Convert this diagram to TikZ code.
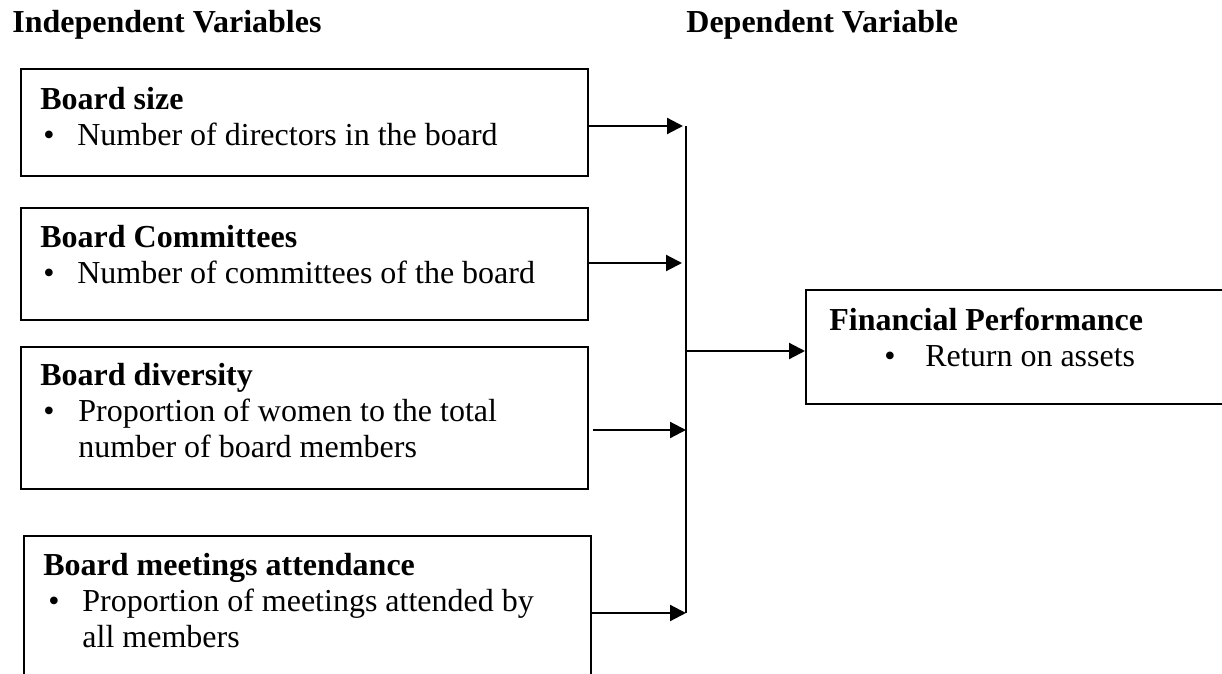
\documentclass[tikz,border=0pt]{standalone}
\usepackage{fontspec}
\setmainfont{Liberation Serif}
\usetikzlibrary{positioning, arrows.meta}

\newcommand{\bitem}[3]{\hspace*{#1}\makebox[#2][l]{\textbullet}#3}

\begin{document}
\begin{tikzpicture}[
    x=0.5pt, y=-0.5pt,
    box/.style={
        draw,
        line width=0.8pt,
        rectangle,
        anchor=north west,
        inner sep=0pt,
        minimum width=283.5pt
    },
    txt/.style={
        anchor=base west,
        inner sep=0pt,
        text width=280pt,
        align=flush left,
        font=\fontsize{16}{18}\selectfont
    },
    head/.style={
        anchor=base west,
        inner sep=0pt,
        font=\fontsize{16}{18}\selectfont\bfseries
    },
    edge/.style={line width=1.1pt, -{Triangle[length=8pt, width=8pt]}}
]

\useasboundingbox (0,0) rectangle (1222,674);
\clip (0,0) rectangle (1222,674);

\node[head] (indep) at (12,33) {Independent Variables};
\node[head] (dep) at (686,33) {Dependent Variable};

\node[box, minimum height=53.5pt] (size) at (20,68) {};
\node[box, minimum height=56pt] (comm) at (20,207) {};
\node[box, minimum height=71pt] (div) at (20,346) {};
\node[box, minimum height=100pt] (meet) at (23,535) {};
\node[box, minimum width=250pt, minimum height=57pt] (perf) at (805,289) {};

\node[txt] (sizetxt) at (40,110) {\textbf{Board size}\\
    \bitem{1.5pt}{17pt}{Number of directors in the board}};
\node[txt] (commtxt) at (40,248) {\textbf{Board Committees}\\
    \bitem{1.5pt}{17pt}{Number of committees of the board}};
\node[txt] (divtxt) at (40,385) {\textbf{Board diversity}\\
    \bitem{1.5pt}{17.5pt}{Proportion of women to the total}\\
    \hspace*{19pt}number of board members};
\node[txt] (meettxt) at (43,575) {\textbf{Board meetings attendance}\\
    \bitem{2.5pt}{17pt}{Proportion of meetings attended by}\\
    \hspace*{19.5pt}all members};
\node[txt] (perftxt) at (829,330) {\textbf{Financial Performance}\\
    \bitem{27.5pt}{20.5pt}{Return on assets}};

% collecting line
\coordinate (b1) at (686,126);
\coordinate (b2) at (686,263);
\coordinate (bm) at (686,351);
\coordinate (b3) at (686,430);
\coordinate (b4) at (686,613);

\draw[line width=1pt] (b1) -- (b4);

\draw[edge, shorten >=1.5pt] (size.east |- b1) -- (b1);
\draw[edge, shorten >=2pt] (comm.east |- b2) -- (b2);
\draw[edge, shorten <=2pt] (div.east |- b3) -- (b3);
\draw[edge] (meet.east |- b4) -- (b4);
\draw[edge] (bm) -- (perf.west |- bm);

\end{tikzpicture}
\end{document}
